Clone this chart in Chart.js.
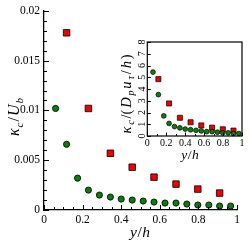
<!DOCTYPE html>
<html><head><meta charset="utf-8">
<script src="https://cdn.jsdelivr.net/npm/chart.js@4/dist/chart.umd.min.js"></script>
<style>
html,body{margin:0;padding:0;background:#fff;}
#wrap{position:relative;width:249px;height:249px;}
canvas{position:absolute;left:0;top:0;}
</style></head><body>
<div id="wrap"><canvas id="main" width="249" height="249"></canvas><canvas id="inset" width="249" height="249"></canvas></div>
<script>
// ---- data ----
const yhGreen = [0.06,0.117,0.174,0.23,0.287,0.344,0.4,0.457,0.514,0.57,0.627,0.684,0.74,0.797,0.854,0.91,0.967];
const kGreen  = [0.0102,0.0066,0.0032,0.0020,0.0015,0.0013,0.0011,0.0010,0.0009,0.0008,0.0007,0.0007,0.0006,0.0005,0.0005,0.0004,0.0004];
const yhRed   = [0.117,0.23,0.344,0.457,0.57,0.684,0.797,0.91];
const kRed    = [0.0178,0.0102,0.0057,0.0043,0.0033,0.0026,0.0021,0.0017];
const kGreenInset = [5.44,3.52,1.71,1.07,0.80,0.69,0.59,0.53,0.48,0.43,0.37,0.37,0.32,0.27,0.27,0.21,0.21];
const kRedInset   = [4.84,2.77,1.55,1.17,0.90,0.71,0.57,0.46];
const mainXTicks = [0,0.2,0.4,0.6,0.8,1];
const mainYTicks = [0,0.005,0.01,0.015,0.02];
const insetXTicks = [0,0.2,0.4,0.6,0.8,1];
const insetYTicks = [0,1,2,3,4,5,6,7,8];

const SERIF = '"Liberation Serif", "DejaVu Serif", serif';
const GREEN = '#0b7d0b', RED = '#f00000';

function pts(xs, ys){ return xs.map((x,i)=>({x:x, y:ys[i]})); }

function mathText(ctx, parts, size, gap){
  gap = gap || 0;
  let w = 0;
  const segs = parts.map(p=>{
    const s = p.sub ? size*0.7 : size;
    const f = (p.it ? 'italic ' : '') + s + 'px ' + SERIF;
    ctx.font = f;
    const mw = ctx.measureText(p.t).width + gap;
    w += mw;
    return {t:p.t, f:f, mw:mw, sub:p.sub};
  });
  w -= gap;
  let x = -w/2;
  ctx.textAlign = 'left';
  ctx.textBaseline = 'alphabetic';
  segs.forEach(p=>{
    ctx.font = p.f;
    ctx.fillText(p.t, x, size*0.32 + (p.sub ? size*0.22 : 0));
    x += p.mw;
  });
}

function tickMarks(ctx, xs, ys, vals, isX, len){
  vals.forEach(v=>{
    if (isX){
      const px = Math.round(xs.getPixelForValue(v))+0.5;
      const b = ys.bottom;
      ctx.beginPath(); ctx.moveTo(px,b); ctx.lineTo(px,b-len); ctx.stroke();
    } else {
      const py = Math.round(ys.getPixelForValue(v))+0.5;
      const l = xs.left;
      ctx.beginPath(); ctx.moveTo(l,py); ctx.lineTo(l+len,py); ctx.stroke();
    }
  });
}
function range(a,b,s){ const r=[]; for(let v=a; v<=b+1e-9; v+=s) r.push(+v.toFixed(6)); return r; }

const xTitle = [{t:'y',it:true},{t:'/'},{t:'h',it:true}];

const mainDecor = {
  id:'mainDecor',
  afterDraw(chart){
    const ctx = chart.ctx, xs = chart.scales.x, ys = chart.scales.y;
    ctx.save();
    ctx.strokeStyle = '#000'; ctx.lineWidth = 1;
    tickMarks(ctx, xs, ys, mainXTicks, true, 5);
    tickMarks(ctx, xs, ys, range(0,1,0.05).filter(v=>!mainXTicks.includes(v)), true, 3);
    tickMarks(ctx, xs, ys, mainYTicks, false, 5);
    tickMarks(ctx, xs, ys, range(0,0.02,0.001).filter(v=>!mainYTicks.some(t=>Math.abs(t-v)<1e-9)), false, 3);
    ctx.fillStyle = '#000';
    ctx.save(); ctx.translate(140, 232); mathText(ctx, xTitle, 15.5, 0.5); ctx.restore();
    ctx.save(); ctx.translate(14, 117); ctx.rotate(-Math.PI/2);
    mathText(ctx, [{t:'κ',it:true},{t:'c',it:true,sub:true},{t:'/'},{t:'U',it:true},{t:'b',it:true,sub:true}], 16, 1);
    ctx.restore();
    ctx.restore();
  }
};

const insetDecor = {
  id:'insetDecor',
  afterDraw(chart){
    const ctx = chart.ctx, xs = chart.scales.x, ys = chart.scales.y;
    const L = xs.left, R = xs.right, T = ys.top, B = ys.bottom;
    ctx.save();
    ctx.strokeStyle = '#000'; ctx.lineWidth = 1.2;
    ctx.strokeRect(L, T, R-L, B-T);
    ctx.lineWidth = 1;
    tickMarks(ctx, xs, ys, insetXTicks, true, 3.5);
    tickMarks(ctx, xs, ys, range(0.1,0.9,0.2), true, 2);
    tickMarks(ctx, xs, ys, insetYTicks, false, 3.5);
    ctx.fillStyle = '#000';
    // rotated y tick labels, drawn with the same routine as the titles
    for (let i = 0; i < insetYTicks.length; i++){
      const v = insetYTicks[i];
      const py = ys.getPixelForValue(v);
      ctx.save();
      ctx.translate(L - 5.5, py);
      ctx.rotate(-Math.PI/2);
      mathText(ctx, [{t:String(v)}], 10, 0);
      ctx.restore();
    }
    ctx.save(); ctx.translate(190, 155); mathText(ctx, xTitle, 13.5, 0.5); ctx.restore();
    ctx.save(); ctx.translate(126, 94); ctx.rotate(-Math.PI/2);
    mathText(ctx, [{t:'κ',it:true},{t:'c',it:true,sub:true},{t:'/('},{t:'D',it:true},{t:'p',it:true,sub:true},{t:'u',it:true},{t:'τ',it:true,sub:true},{t:'/'},{t:'h',it:true},{t:')'}], 14.5, 1.8);
    ctx.restore();
    ctx.restore();
  }
};

function makeScale(min, max, tickVals, opts){
  return Object.assign({
    type:'linear', min:min, max:max,
    grid:{display:false, drawTicks:false},
    border:{display:true, color:'#000', width:1.3},
    afterBuildTicks(s){ s.ticks = tickVals.map(v=>({value:v})); },
    ticks:{color:'#000', font:{family:SERIF, size:11}, callback:(v)=>String(v), autoSkip:false, maxRotation:0, minRotation:0}
  }, opts);
}

new Chart(document.getElementById('main'), {
  type:'scatter',
  data:{datasets:[
    {data:pts(yhGreen,kGreen), pointStyle:'circle', pointRadius:3.1, backgroundColor:GREEN, borderColor:'#000', borderWidth:0.8, clip:false},
    {data:pts(yhRed,kRed), pointStyle:'rect', pointRadius:4.6, backgroundColor:RED, borderColor:'#000', borderWidth:0.8, clip:false}
  ]},
  options:{
    responsive:false, animation:false, devicePixelRatio:1,
    layout:{padding:{left:0, top:10, right:12, bottom:0}},
    plugins:{legend:{display:false}, tooltip:{enabled:false}},
    scales:{
      x: makeScale(0,1,mainXTicks,{afterFit(s){s.height=39;}, ticks:{color:'#000', font:{family:SERIF,size:11.5}, padding:3, callback:(v)=>String(v), autoSkip:false, maxRotation:0, minRotation:0}}),
      y: makeScale(0,0.02,mainYTicks,{afterFit(s){s.width=44;}, ticks:{color:'#000', font:{family:SERIF,size:11.5}, padding:4, callback:(v)=>String(v), autoSkip:false}})
    }
  },
  plugins:[mainDecor]
});

new Chart(document.getElementById('inset'), {
  type:'scatter',
  data:{datasets:[
    {data:pts(yhGreen,kGreenInset), pointStyle:'circle', pointRadius:2.4, backgroundColor:GREEN, borderColor:'#000', borderWidth:0.7, clip:false},
    {data:pts(yhRed,kRedInset), pointStyle:'rect', pointRadius:3.6, backgroundColor:RED, borderColor:'#000', borderWidth:0.7, clip:false}
  ]},
  options:{
    responsive:false, animation:false, devicePixelRatio:1,
    layout:{padding:{left:0, top:42, right:7, bottom:0}},
    plugins:{legend:{display:false}, tooltip:{enabled:false}},
    scales:{
      x: makeScale(0,1,insetXTicks,{afterFit(s){s.height=113;}, border:{display:false}, ticks:{color:'#000', font:{family:SERIF,size:10}, padding:1, callback:(v)=>String(v), autoSkip:false, maxRotation:0, minRotation:0}}),
      y: makeScale(0,8,insetYTicks,{afterFit(s){s.width=147.3;}, border:{display:false}, ticks:{display:false}})
    }
  },
  plugins:[insetDecor]
});
</script>
</body></html>
